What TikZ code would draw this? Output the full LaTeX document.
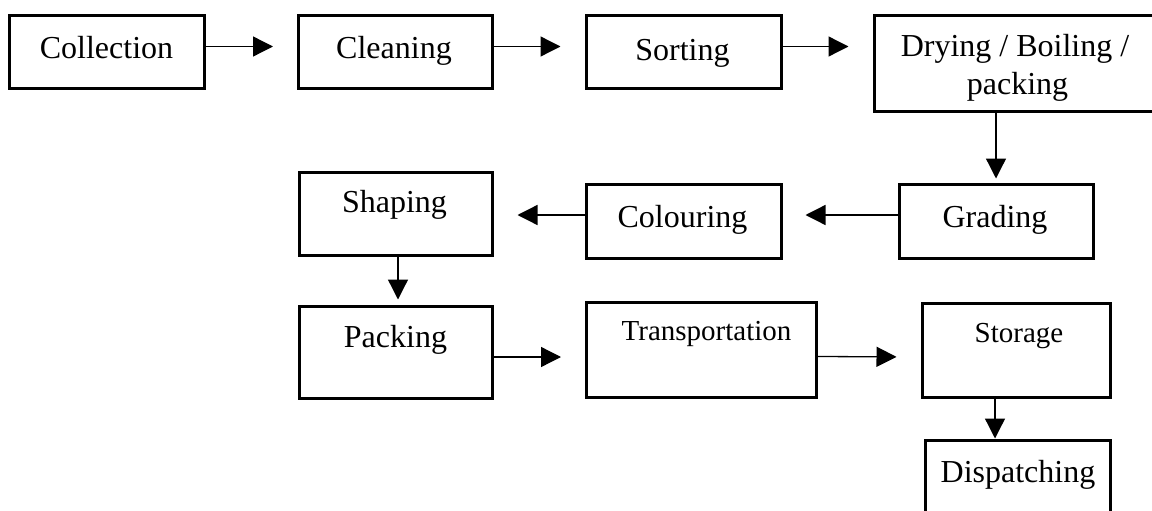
\documentclass[tikz,border=0pt]{standalone}
\usepackage{fontspec}
\setmainfont{Liberation Serif}
\usetikzlibrary{arrows.meta}
\tikzset{
  box/.style={draw=black, line width=3pt, rectangle, inner sep=0pt, fill=none},
  lbl/.style={anchor=base, inner sep=0pt, font=\fontsize{32}{36}\selectfont},
  lblsmall/.style={lbl, font=\fontsize{29}{33}\selectfont},
  arr/.style={draw=black, line width=1.3pt, -{Triangle[length=20pt,width=20pt]}}
}
\begin{document}
\begin{tikzpicture}[x=1pt,y=-1pt]
\useasboundingbox (0,0) rectangle (1152,511);
% boxes (centre, width, height in px)
\node[box, minimum width=195pt, minimum height=73pt] (coll)  at (107,52.5) {};
\node[box, minimum width=194pt, minimum height=73pt] (clean) at (395.5,52.5) {};
\node[box, minimum width=195pt, minimum height=73pt] (sort)  at (683.5,52.5) {};
\node[box, minimum width=300pt, minimum height=95pt] (dry)   at (1024,63.5) {};
\node[box, minimum width=194pt, minimum height=74pt] (grade) at (996,221) {};
\node[box, minimum width=195pt, minimum height=74pt] (colour) at (683.5,221) {};
\node[box, minimum width=193pt, minimum height=83pt] (shape) at (395.5,213.5) {};
\node[box, minimum width=193pt, minimum height=92pt] (pack)  at (395.5,352) {};
\node[box, minimum width=230pt, minimum height=95pt] (trans) at (701.5,349.5) {};
\node[box, minimum width=188pt, minimum height=94pt] (stor)  at (1016,350) {};
\node[box, minimum width=185pt, minimum height=80pt] (disp)  at (1017.5,480) {};
% texts
\node[lbl] (tcoll)  at (106.5,59) {Collection};
\node[lbl] (tclean) at (394,59) {Cleaning};
\node[lbl] (tsort)  at (682.5,61) {Sorting};
\node[lbl] (tdry1)  at (1015,57) {Drying / Boiling /};
\node[lbl] (tdry2)  at (1017.5,95) {packing};
\node[lbl] (tgrade) at (995,227) {Grading};
\node[lbl] (tcol)   at (682.5,227) {Colouring};
\node[lbl] (tshape) at (394.5,212) {Shaping};
\node[lbl] (tpack)  at (395.5,347) {Packing};
\node[lblsmall] (ttrans) at (706.5,340) {Transportation};
\node[lblsmall] (tstor)  at (1019,342) {Storage};
\node[lbl] (tdisp)  at (1018,482) {Dispatching};
% connectors
\draw[arr, shorten >=24pt] ([yshift=6pt]coll.east) -- ([yshift=6pt]clean.west);
\draw[arr, shorten >=24pt] ([yshift=6pt]clean.east) -- ([yshift=6pt]sort.west);
\draw[arr, shorten >=24pt] ([yshift=6pt]sort.east) -- ([yshift=17pt]dry.west);
\draw[arr, shorten >=4pt] ([xshift=-28pt]dry.south) -- (grade.north);
\draw[arr, shorten >=23pt] ([yshift=6pt]grade.west) -- ([yshift=6pt]colour.east);
\draw[arr, shorten >=24pt] ([yshift=6pt]colour.west) -- ([yshift=-1.5pt]shape.east);
\draw[arr, shorten >=5pt] ([xshift=2.5pt]shape.south) -- ([xshift=2.5pt]pack.north);
\draw[arr, shorten >=24pt] ([yshift=-5pt]pack.east) -- ([yshift=-7.5pt]trans.west);
\draw[arr, shorten >=24pt] ([yshift=-7pt]trans.east) -- ([yshift=-7pt]stor.west);
\draw[arr] ([xshift=-21pt,yshift=2pt]stor.south) -- ([xshift=-22.5pt]disp.north);
\end{tikzpicture}
\end{document}
